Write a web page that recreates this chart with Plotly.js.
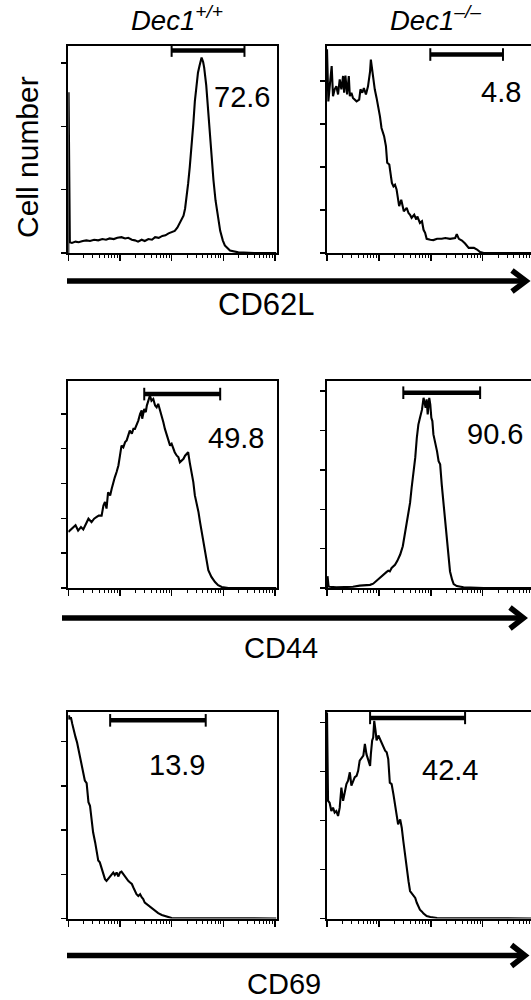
<!DOCTYPE html>
<html>
<head>
<meta charset="utf-8">
<script src="https://cdn.plot.ly/plotly-3.0.1.min.js"></script>
<style>
  html, body { margin: 0; padding: 0; background: #fff; }
  #chart { width: 531px; height: 1000px; }
</style>
</head>
<body>
<div id="chart"></div>
<script>
// ---------------- DATA (x = log10 fluorescence, y = cell number, arbitrary tick units) ----------------
const genotypes = ["Dec1<sup>+/+</sup>", "Dec1<sup>\u2013/\u2013</sup>"];
const markers = ["CD62L", "CD44", "CD69"];
const gatePercent = ["72.6", "4.8", "49.8", "90.6", "13.9", "42.4"];
const gateLo = [2.00, 1.99, 1.47, 1.47, 0.81, 0.83];
const gateHi = [3.41, 3.39, 2.94, 2.95, 2.66, 2.66];

const cd62lWtX = [0, 0.005, 0.03, 0.07, 0.14, 0.20, 0.28, 0.35, 0.42, 0.50, 0.58, 0.66, 0.73, 0.80, 0.88, 0.95, 1.03, 1.10, 1.16, 1.23, 1.29, 1.35, 1.42, 1.48, 1.55, 1.62, 1.68, 1.75, 1.82, 1.88, 1.94, 2.00, 2.06, 2.11, 2.16, 2.20, 2.23, 2.26, 2.29, 2.32, 2.35, 2.39, 2.42, 2.45, 2.48, 2.51, 2.54, 2.58, 2.61, 2.63, 2.67, 2.70, 2.74, 2.77, 2.81, 2.85, 2.90, 2.94, 2.99, 3.03, 3.13, 3.29, 3.60, 4.03];
const cd62lWtY = [0, 2.54, 0.17, 0.16, 0.18, 0.17, 0.19, 0.20, 0.19, 0.21, 0.20, 0.22, 0.21, 0.23, 0.22, 0.24, 0.25, 0.23, 0.24, 0.21, 0.20, 0.18, 0.21, 0.19, 0.22, 0.21, 0.25, 0.24, 0.27, 0.28, 0.31, 0.33, 0.35, 0.40, 0.48, 0.52, 0.59, 0.70, 0.88, 1.10, 1.35, 1.70, 2.04, 2.40, 2.67, 2.85, 2.96, 3.09, 3.02, 2.93, 2.65, 2.30, 1.90, 1.51, 1.15, 0.83, 0.52, 0.35, 0.20, 0.12, 0.04, 0.01, 0, 0];

const cd62lKoX = [0, 0.026, 0.065, 0.09, 0.116, 0.148, 0.18, 0.213, 0.245, 0.277, 0.31, 0.33, 0.355, 0.387, 0.42, 0.44, 0.47, 0.50, 0.57, 0.62, 0.645, 0.68, 0.71, 0.75, 0.79, 0.83, 0.845, 0.88, 0.92, 0.955, 0.99, 1.02, 1.05, 1.10, 1.135, 1.16, 1.20, 1.23, 1.25, 1.28, 1.31, 1.34, 1.37, 1.39, 1.43, 1.46, 1.48, 1.535, 1.57, 1.60, 1.63, 1.68, 1.72, 1.74, 1.79, 1.83, 1.86, 1.89, 1.92, 1.99, 2.05, 2.12, 2.21, 2.28, 2.37, 2.47, 2.50, 2.54, 2.60, 2.66, 2.73, 2.83, 2.89, 2.95, 3.02, 3.93];
const cd62lKoY = [4.74, 3.53, 4.04, 4.35, 3.65, 3.81, 3.88, 3.69, 4.04, 3.81, 4.12, 3.73, 4.13, 3.69, 4.12, 3.65, 3.73, 3.61, 3.53, 3.57, 3.81, 3.73, 3.84, 3.69, 3.88, 4.23, 4.50, 4.12, 3.81, 3.61, 3.42, 3.18, 2.91, 2.72, 2.49, 2.10, 2.06, 1.86, 1.63, 1.55, 1.59, 1.48, 1.24, 1.09, 1.24, 1.09, 0.97, 1.05, 0.93, 0.89, 0.82, 0.89, 0.78, 0.85, 0.70, 0.74, 0.54, 0.47, 0.33, 0.31, 0.30, 0.33, 0.33, 0.35, 0.33, 0.35, 0.44, 0.33, 0.29, 0.22, 0.12, 0.12, 0.08, 0.02, 0, 0];

const cd44WtX = [0, 0.05, 0.097, 0.14, 0.19, 0.245, 0.29, 0.335, 0.39, 0.45, 0.50, 0.55, 0.59, 0.645, 0.68, 0.71, 0.74, 0.77, 0.81, 0.84, 0.87, 0.90, 0.935, 0.97, 1.00, 1.03, 1.065, 1.10, 1.13, 1.16, 1.19, 1.23, 1.26, 1.29, 1.32, 1.355, 1.39, 1.42, 1.43, 1.47, 1.50, 1.52, 1.55, 1.58, 1.61, 1.645, 1.68, 1.71, 1.74, 1.77, 1.81, 1.84, 1.87, 1.90, 1.935, 1.97, 2.00, 2.03, 2.06, 2.10, 2.13, 2.16, 2.19, 2.23, 2.26, 2.29, 2.32, 2.35, 2.39, 2.42, 2.45, 2.48, 2.52, 2.55, 2.58, 2.61, 2.645, 2.68, 2.71, 2.77, 2.84, 2.90, 2.97, 3.10, 4.03];
const cd44WtY = [1.61, 1.68, 1.75, 1.80, 1.65, 1.75, 1.68, 1.80, 1.99, 1.89, 1.99, 2.04, 2.08, 2.08, 2.37, 2.47, 2.28, 2.75, 2.66, 2.85, 3.04, 3.18, 3.33, 3.52, 3.80, 4.09, 4.04, 4.19, 4.24, 4.38, 4.52, 4.43, 4.57, 4.57, 4.67, 4.81, 5.00, 5.10, 4.86, 5.14, 5.05, 5.24, 5.38, 5.53, 5.38, 5.43, 5.24, 5.19, 5.29, 5.14, 4.95, 4.76, 4.57, 4.43, 4.28, 4.09, 4.14, 4.00, 3.90, 3.80, 3.76, 3.61, 3.66, 3.71, 3.80, 3.85, 3.90, 3.61, 3.33, 3.04, 2.66, 2.47, 2.18, 1.89, 1.61, 1.32, 1.03, 0.75, 0.51, 0.32, 0.17, 0.08, 0.03, 0, 0];

const cd44KoX = [0, 0.01, 0.03, 0.05, 0.18, 0.31, 0.50, 0.63, 0.73, 0.83, 0.89, 0.955, 1.02, 1.08, 1.15, 1.18, 1.21, 1.245, 1.31, 1.355, 1.41, 1.46, 1.50, 1.535, 1.57, 1.60, 1.63, 1.665, 1.70, 1.73, 1.76, 1.79, 1.83, 1.86, 1.88, 1.90, 1.92, 1.94, 1.97, 1.99, 2.01, 2.03, 2.05, 2.08, 2.12, 2.15, 2.18, 2.21, 2.245, 2.28, 2.31, 2.34, 2.37, 2.41, 2.44, 2.50, 2.63, 3.02, 3.93];
const cd44KoY = [0, 0.30, 0.04, 0.03, 0.02, 0.03, 0.03, 0.06, 0.07, 0.08, 0.11, 0.19, 0.27, 0.34, 0.41, 0.44, 0.42, 0.51, 0.59, 0.69, 0.85, 1.06, 1.36, 1.69, 1.86, 2.16, 2.54, 2.88, 3.31, 3.81, 4.15, 4.32, 4.53, 4.83, 4.70, 4.58, 4.79, 4.41, 4.83, 4.66, 4.32, 4.24, 3.90, 3.73, 3.47, 3.22, 3.14, 2.63, 2.12, 1.61, 1.10, 0.68, 0.42, 0.21, 0.10, 0.05, 0.02, 0, 0];

const cd69WtX = [0, 0.013, 0.03, 0.05, 0.077, 0.11, 0.14, 0.17, 0.21, 0.245, 0.29, 0.32, 0.355, 0.39, 0.42, 0.45, 0.48, 0.52, 0.55, 0.58, 0.61, 0.645, 0.68, 0.71, 0.74, 0.77, 0.81, 0.84, 0.87, 0.90, 0.935, 0.97, 1.00, 1.03, 1.065, 1.10, 1.13, 1.16, 1.19, 1.23, 1.26, 1.29, 1.32, 1.355, 1.39, 1.42, 1.45, 1.48, 1.52, 1.55, 1.61, 1.68, 1.74, 1.81, 1.87, 1.94, 2.00, 4.03];
const cd69WtY = [4.50, 4.59, 4.51, 4.55, 4.40, 4.21, 4.10, 3.98, 3.76, 3.53, 3.31, 3.12, 3.06, 2.63, 2.55, 2.25, 1.95, 1.72, 1.49, 1.31, 1.27, 1.12, 1.00, 0.89, 0.85, 0.89, 0.95, 1.00, 1.04, 0.98, 1.04, 0.95, 1.04, 1.06, 1.00, 0.97, 0.89, 0.85, 0.82, 0.78, 0.70, 0.63, 0.55, 0.51, 0.55, 0.48, 0.44, 0.36, 0.32, 0.29, 0.23, 0.17, 0.12, 0.08, 0.06, 0.02, 0.01, 0];

const cd69KoX = [0, 0.01, 0.02, 0.05, 0.084, 0.116, 0.148, 0.18, 0.213, 0.245, 0.277, 0.31, 0.34, 0.374, 0.406, 0.44, 0.47, 0.50, 0.535, 0.57, 0.60, 0.63, 0.665, 0.70, 0.73, 0.76, 0.79, 0.83, 0.845, 0.87, 0.89, 0.91, 0.935, 0.955, 0.99, 1.02, 1.05, 1.08, 1.12, 1.15, 1.18, 1.21, 1.245, 1.28, 1.31, 1.34, 1.37, 1.41, 1.44, 1.47, 1.50, 1.535, 1.57, 1.60, 1.63, 1.665, 1.70, 1.73, 1.76, 1.79, 1.83, 1.86, 1.92, 1.99, 2.12, 2.25, 3.93];
const cd69KoY = [4.20, 2.43, 2.40, 2.36, 2.19, 2.26, 2.16, 2.19, 2.09, 2.26, 2.67, 2.40, 2.53, 2.74, 2.81, 2.98, 2.71, 2.81, 2.88, 2.91, 3.01, 3.22, 3.28, 3.32, 3.56, 3.35, 3.25, 3.11, 3.35, 3.63, 3.69, 4.03, 3.83, 3.63, 3.73, 3.66, 3.59, 3.52, 3.42, 3.39, 3.25, 2.77, 2.74, 2.53, 2.33, 2.06, 1.92, 2.02, 1.85, 1.58, 1.31, 1.04, 0.76, 0.56, 0.52, 0.49, 0.42, 0.32, 0.23, 0.18, 0.14, 0.10, 0.05, 0.03, 0.01, 0.01, 0];

const seriesX = [cd62lWtX, cd62lKoX, cd44WtX, cd44KoX, cd69WtX, cd69KoX];
const seriesY = [cd62lWtY, cd62lKoY, cd44WtY, cd44KoY, cd69WtY, cd69KoY];

// ---------------- LAYOUT / STYLE ----------------
const W = 531, H = 1000;
const px = v => v / W;
const py = v => 1 - v / H;
const FONT = "Liberation Sans, Arial, Helvetica, sans-serif";

const colX = [[68.3, 276.5], [327, 531]];
const rowY = [[45.5, 253], [380.5, 588], [711.5, 918.5]];
const xRange = [[0, 4.03], [0, 3.93]];
const yTop = [3.28, 4.83, 5.96, 5.27, 4.68, 4.22];
const gateLevel = [3.20, 4.62, 5.57, 4.96, 4.48, 4.09];
const pctPos = [[242, 97], [501, 92], [236, 437.5], [495, 434], [177, 765], [450, 770]];

const majorTicks = [0, 1, 2, 3, 4];
const minorTicks = [];
for (let d = 0; d < 4; d++) for (let k = 2; k <= 9; k++) minorTicks.push(d + Math.log10(k));

const traces = [];
const layout = {
  width: W, height: H,
  margin: {l: 0, r: 0, t: 0, b: 0},
  paper_bgcolor: "#fff", plot_bgcolor: "rgba(0,0,0,0)",
  showlegend: false,
  font: {family: FONT, color: "#000"},
  annotations: [], shapes: []
};

for (let i = 0; i < 6; i++) {
  const row = Math.floor(i / 2), col = i % 2;
  const sfx = i === 0 ? "" : String(i + 1);
  layout["xaxis" + sfx] = {
    domain: [px(colX[col][0]), px(colX[col][1])],
    range: xRange[col], anchor: "y" + sfx,
    showline: true, linewidth: 2, linecolor: "#000", mirror: true,
    ticks: "outside", tickmode: "array", tickvals: majorTicks, ticklen: 6, tickwidth: 1.5, tickcolor: "#000",
    minor: {tickmode: "array", tickvals: minorTicks, ticks: "outside", ticklen: 3, tickwidth: 1, tickcolor: "#000", showgrid: false},
    showticklabels: false, showgrid: false, zeroline: false, fixedrange: true
  };
  layout["yaxis" + sfx] = {
    domain: [py(rowY[row][1]), py(rowY[row][0])],
    range: [0, yTop[i]], anchor: "x" + sfx,
    showline: true, linewidth: 2, linecolor: "#000", mirror: col === 0,
    ticks: "outside", tick0: 0, dtick: 1, ticklen: 5, tickwidth: 1.5, tickcolor: "#000",
    showticklabels: false, showgrid: false, zeroline: false, fixedrange: true
  };
  traces.push({
    type: "scatter", mode: "lines", x: seriesX[i], y: seriesY[i],
    xaxis: "x" + sfx, yaxis: "y" + sfx,
    line: {color: "#000", width: 2.1}, hoverinfo: "skip"
  });
  traces.push({
    type: "scatter", mode: "lines+markers",
    x: [gateLo[i], gateHi[i]], y: [gateLevel[i], gateLevel[i]],
    xaxis: "x" + sfx, yaxis: "y" + sfx,
    line: {color: "#000", width: 4.5},
    marker: {symbol: "line-ns", size: 9, color: "#000", line: {color: "#000", width: 2}},
    cliponaxis: false, hoverinfo: "skip"
  });
  layout.annotations.push({
    xref: "paper", yref: "paper", x: px(pctPos[i][0]), y: py(pctPos[i][1]),
    xanchor: "center", yanchor: "middle", showarrow: false, borderpad: 0,
    text: gatePercent[i], font: {family: FONT, size: 29, color: "#000"}
  });
}

// column titles (italic genotype labels)
const titlePos = [[176.5, 37.5], [435.5, 37.5]];
genotypes.forEach((g, j) => {
  layout.annotations.push({
    xref: "paper", yref: "paper", x: px(titlePos[j][0]), y: py(titlePos[j][1]),
    xanchor: "center", yanchor: "bottom", showarrow: false, borderpad: 0,
    text: g, font: {family: FONT, size: 27.5, style: "italic", color: "#000"}
  });
});

// y label
layout.annotations.push({
  xref: "paper", yref: "paper", x: px(27.5), y: py(157.5),
  xanchor: "center", yanchor: "middle", showarrow: false, textangle: -90, borderpad: 0,
  text: "Cell number", font: {family: FONT, size: 30, color: "#000"}
});

// marker labels and arrows
const markerPos = [[266, 305, 31], [281, 648, 29], [284, 984, 29]];
const arrows = [
  {x0: 67, x1: 526, y: 281, hx: 512, hy: 10.5},
  {x0: 62, x1: 523.5, y: 618, hx: 510, hy: 10.5},
  {x0: 67, x1: 525, y: 955.5, hx: 511.5, hy: 10.5}
];
markers.forEach((m, r) => {
  layout.annotations.push({
    xref: "paper", yref: "paper", x: px(markerPos[r][0]), y: py(markerPos[r][1]),
    xanchor: "center", yanchor: "middle", showarrow: false, borderpad: 0,
    text: m, font: {family: FONT, size: markerPos[r][2], color: "#000"}
  });
  const a = arrows[r];
  layout.shapes.push({
    type: "line", xref: "paper", yref: "paper",
    x0: px(a.x0), x1: px(a.x1 - 2), y0: py(a.y), y1: py(a.y),
    line: {color: "#000", width: 5.5}
  });
  layout.shapes.push({
    type: "path", xref: "paper", yref: "paper",
    path: `M ${px(a.hx)},${py(a.y - a.hy)} L ${px(a.x1)},${py(a.y)} L ${px(a.hx)},${py(a.y + a.hy)}`,
    line: {color: "#000", width: 5.5}
  });
});

Plotly.newPlot("chart", traces, layout, {staticPlot: true, displayModeBar: false});
</script>
</body>
</html>
